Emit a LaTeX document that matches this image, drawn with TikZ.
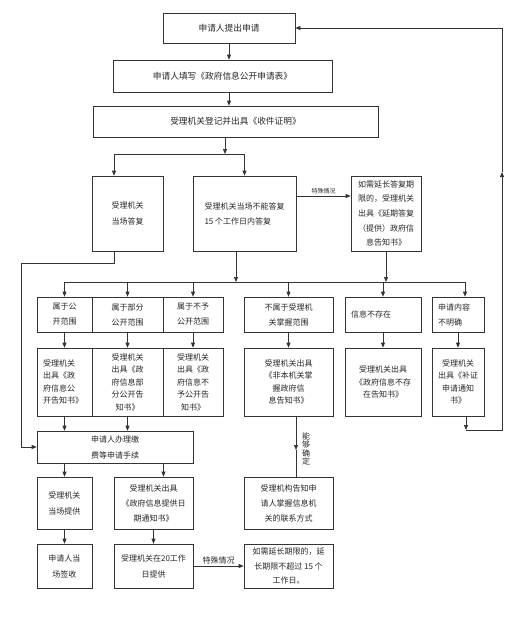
\documentclass[tikz,border=0pt]{standalone}
\usepackage{fontspec}
\setmainfont{Noto Sans CJK SC}
\usetikzlibrary{arrows.meta,calc}
\newcommand\mybox[7][]{\node[box,#1,minimum width={#5-#3},minimum height={#6-#4}] (#2) at ({(#3+#5)/2},{(#4+#6)/2}) {#7};}
\begin{document}
\begin{tikzpicture}[x=1pt,y=-1pt,
  box/.style={draw=black!80, line width=0.7pt, inner sep=1.5pt, font=\fontsize{8}{12.5}\selectfont, align=center, text=black!85},
  big/.style={font=\fontsize{8.7}{12}\selectfont},
  fs16/.style={font=\fontsize{8}{16}\selectfont},
  fs15/.style={font=\fontsize{8}{15}\selectfont},
  fs14/.style={font=\fontsize{8}{14.6}\selectfont},
  arr/.style={draw=black!80, line width=0.7pt, -{Triangle[length=5pt,width=4pt]}},
  ln/.style={draw=black!80, line width=0.7pt},
  lbl/.style={font=\fontsize{6}{7}\selectfont, inner sep=1.5pt, text=black!85},
  lblb/.style={font=\fontsize{8}{9}\selectfont, inner sep=1.5pt, text=black!85},
  vlbl/.style={font=\fontsize{8}{8.6}\selectfont, inner sep=0pt, align=center, text=black!85}]
\useasboundingbox (0,0) rectangle (521,622);
% top
\mybox[big]{b1}{163}{13}{295}{43}{申请人提出申请}
\mybox[big]{b2}{113}{60}{332}{92}{申请人填写《政府信息公开申请表》}
\mybox[big]{b3}{93}{106}{378}{137}{受理机关登记并出具《收件证明》}
% second level
\mybox[fs16]{bA}{92}{176}{163}{251}{受理机关\\当场答复}
\mybox[fs15,align=left]{bB}{193}{176}{296}{251}{受理机关当场不能答复\\15 个工作日内答复}
\mybox[fs14]{bC}{351}{176}{421}{251}{如需延长答复期\\限的，受理机关\\出具《延期答复\\（提供）政府信\\息告知书》}
% row 1
\mybox[fs15]{r1a}{37}{297}{92}{332}{属于公\\开范围}
\mybox[fs15]{r1b}{92}{297}{163}{332}{属于部分\\公开范围}
\mybox[fs15]{r1c}{163}{297}{223}{332}{属于不予\\公开范围}
\mybox[fs15]{r1d}{244}{297}{333}{332}{不属于受理机\\关掌握范围}
\mybox[inner xsep=6pt,text width=64pt,align=left]{r1e}{345}{297}{421}{332}{信息不存在}
\mybox[fs15,inner xsep=6pt,text width=40pt,align=left]{r1f}{432}{297}{484}{332}{申请内容\\不明确}
% row 2
\mybox[inner xsep=6pt,text width=43pt,align=left]{r2a}{37}{348}{92}{416}{受理机关\\出具《政\\府信息公\\开告知书》}
\mybox{r2b}{92}{348}{163}{416}{受理机关\\出具《政\\府信息部\\分公开告\\知书》}
\mybox{r2c}{163}{348}{223}{416}{受理机关\\出具《政\\府信息不\\予公开告\\知书》}
\mybox{r2d}{244}{348}{333}{416}{受理机关出具\\《非本机关掌\\握政府信\\息告知书》}
\mybox{r2e}{345}{348}{421}{416}{受理机关出具\\《政府信息不存\\在告知书》}
\mybox{r2f}{432}{348}{484}{416}{受理机关\\出具《补证\\申请通知\\书》}
% lower part
\mybox[fs16]{pay}{37}{431}{193}{463}{申请人办理缴\\费等申请手续}
\mybox[fs16]{p1}{37}{477}{92}{529}{受理机关\\当场提供}
\mybox[fs15]{p2}{114}{477}{193}{529}{受理机关出具\\《政府信息提供日\\期通知书》}
\mybox[fs16]{q1}{37}{544}{92}{588}{申请人当\\场签收}
\mybox[fs16]{q2}{114}{544}{193}{588}{受理机关在20工作\\日提供}
\mybox[fs15]{inf}{244}{477}{333}{529}{受理机构告知申\\请人掌握信息机\\关的联系方式}
\mybox[fs14]{ext}{244}{544}{333}{588}{如需延长期限的，延\\长期限不超过 15 个\\工作日。}
\node[vlbl] (vl) at (306,449) {能\\够\\确\\定};
% junction coordinates
\coordinate (j1) at (225,154);
\coordinate (aX) at (114,263);
\coordinate (lx) at (21,263);
\coordinate (r1) at (300,196);
\coordinate (j2) at (236,282);
\coordinate (m1) at (0,450);
\coordinate (rb) at (502,430);
\coordinate (rm) at (502,172);
% connectors
\draw[arr] (b1.south) -- (b1.south |- b2.north);
\draw[arr] (b2.south -| b1.south) -- (b1.south |- b3.north);
\draw[arr] (b3.south -| j1) -- (j1);
\draw[arr] (j1) -| (bA.north -| aX);
\draw[arr] (j1) -| (bB.north);
\draw[arr] (bB.east |- r1) -- node[above, lbl] (tl1) {特殊情况} (bC.west |- r1);
\draw[arr] (bA.south -| aX) -- (aX) -- (lx) |- (pay.west);
\draw[arr] (bB.south -| j2) -- (j2);
\draw[arr] (bC.south) -- (bC.south |- j2);
\draw[ln] (r1a.north |- j2) -- ([xshift=7pt]r1f.north |- j2);
\foreach \n in {r1a,r1b,r1c,r1d,r1e} \draw[arr] (\n.north |- j2) -- (\n.north);
\draw[arr] ([xshift=7pt]r1f.north |- j2) -- ([xshift=7pt]r1f.north);
\foreach \n in {a,b,c,d,e,f} \draw[arr] (r1\n.south) -- (r2\n.north);
\draw[arr] (r2a.south) -- (r2a.south |- pay.north);
\draw[arr] (r2b.south) -- (r2b.south |- pay.north);
\draw[arr] (p1.north |- pay.south) -- (p1.north);
\draw[arr] ([xshift=10pt]p2.north |- pay.south) -- ([xshift=10pt]p2.north);
\draw[arr] (p1) -- (q1);
\draw[arr] (p2.south) -- (q2.north);
\draw[arr] (q2.east) -- node[above, lblb] (tl2) {特殊情况} (ext.west |- q2.east);
\draw[arr] ([xshift=7.5pt]r2d.south) -- ([xshift=7.5pt]r2d.south |- m1);
\draw[ln] ([xshift=7.5pt]r2d.south |- m1) -- ([xshift=7.5pt]inf.north);
\draw[arr] ([xshift=8pt]r2f.south) -- ([xshift=8pt]r2f.south |- rb);
\draw[arr] ([xshift=8pt]r2f.south |- rb) -- (rb) -- (rm);
\draw[arr] (rm) -- (rm |- b1.east) -- (b1.east);
\end{tikzpicture}
\end{document}
